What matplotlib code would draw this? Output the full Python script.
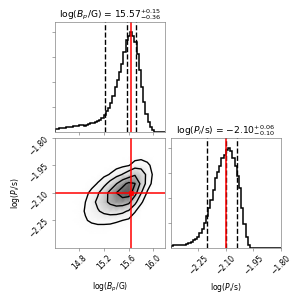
import numpy as np
import matplotlib.pyplot as plt
from matplotlib.ticker import MaxNLocator
from matplotlib.colors import PowerNorm

# Ranges of the two parameters
b_range = (14.41, 16.19)
p_range = (-2.40, -1.80)

# Normalised 1D histograms (50 bins each)
b_hist = [0.03, 0.035, 0.04, 0.04, 0.045, 0.05, 0.05, 0.055, 0.06, 0.06,
          0.065, 0.07, 0.07, 0.065, 0.075, 0.08, 0.09, 0.095, 0.10, 0.11,
          0.12, 0.14, 0.17, 0.21, 0.24, 0.29, 0.36, 0.45, 0.52, 0.60,
          0.68, 0.80, 0.92, 0.96, 1.00, 0.96, 0.90, 0.78, 0.62, 0.45,
          0.30, 0.18, 0.10, 0.05, 0.02, 0.005, 0.0, 0.0, 0.0, 0.0]
p_hist = [0.02, 0.025, 0.025, 0.025, 0.03, 0.03, 0.03, 0.035, 0.045, 0.055,
          0.08, 0.09, 0.11, 0.15, 0.19, 0.25, 0.32, 0.40, 0.48, 0.58,
          0.70, 0.76, 0.82, 0.90, 0.93, 0.98, 1.00, 0.97, 0.90, 0.82,
          0.72, 0.60, 0.40, 0.24, 0.11, 0.03, 0.0, 0.0, 0.0, 0.0,
          0.0, 0.0, 0.0, 0.0, 0.0, 0.0, 0.0, 0.0, 0.0, 0.0]

# 16/50/84 quantiles and true values
b_quant = [15.21, 15.57, 15.72]
p_quant = [-2.20, -2.10, -2.04]
truths = [15.635, -2.10]

# 2D density
grid_b = [14.7, 14.8, 14.9, 15.0, 15.1, 15.2, 15.3, 15.4, 15.5, 15.6,
          15.7, 15.8, 15.9, 16.0, 16.1]
grid_p = [-2.35, -2.30, -2.25, -2.20, -2.15, -2.10, -2.05, -2.00, -1.95,
          -1.90, -1.85]
dens = [
    [0.00, 0.00, 0.01, 0.01, 0.01, 0.01, 0.01, 0.01, 0.00, 0.00, 0.00, 0.00, 0.00, 0.00, 0.00],
    [0.01, 0.02, 0.03, 0.04, 0.04, 0.04, 0.03, 0.02, 0.01, 0.01, 0.00, 0.00, 0.00, 0.00, 0.00],
    [0.02, 0.05, 0.08, 0.11, 0.13, 0.13, 0.13, 0.11, 0.09, 0.06, 0.02, 0.00, 0.00, 0.00, 0.00],
    [0.02, 0.05, 0.10, 0.17, 0.25, 0.32, 0.36, 0.36, 0.32, 0.24, 0.10, 0.02, 0.00, 0.00, 0.00],
    [0.02, 0.04, 0.09, 0.19, 0.32, 0.47, 0.61, 0.70, 0.70, 0.62, 0.33, 0.11, 0.02, 0.00, 0.00],
    [0.01, 0.02, 0.05, 0.13, 0.24, 0.42, 0.63, 0.82, 0.95, 0.96, 0.66, 0.28, 0.07, 0.01, 0.00],
    [0.00, 0.01, 0.02, 0.04, 0.10, 0.20, 0.35, 0.54, 0.74, 0.88, 0.83, 0.48, 0.17, 0.04, 0.01],
    [0.00, 0.00, 0.00, 0.01, 0.02, 0.05, 0.10, 0.18, 0.28, 0.39, 0.52, 0.42, 0.21, 0.06, 0.01],
    [0.00, 0.00, 0.00, 0.00, 0.00, 0.01, 0.01, 0.03, 0.05, 0.08, 0.16, 0.17, 0.12, 0.05, 0.01],
    [0.00, 0.00, 0.00, 0.00, 0.00, 0.00, 0.00, 0.00, 0.00, 0.01, 0.02, 0.04, 0.03, 0.02, 0.01],
    [0.00, 0.00, 0.00, 0.00, 0.00, 0.00, 0.00, 0.00, 0.00, 0.00, 0.00, 0.00, 0.00, 0.00, 0.00],
]
levels = [0.09, 0.27, 0.55, 0.82]

labels = [r"log($B_p$/G)", r"log($P_i$/s)"]
titles = [r"log($B_p$/G) = $15.57_{-0.36}^{+0.15}$",
          r"log($P_i$/s) = $-2.10_{-0.10}^{+0.06}$"]

spine_col = "0.45"

fig, axes = plt.subplots(2, 2, figsize=(5.5, 5.5))
fig.subplots_adjust(left=0.1818, bottom=0.1818, right=0.927, top=0.927,
                    wspace=0.05, hspace=0.05)

# Diagonal histograms
for k, (hist, rng, quant) in enumerate([(b_hist, b_range, b_quant),
                                        (p_hist, p_range, p_quant)]):
    ax = axes[k, k]
    edges = np.linspace(rng[0], rng[1], len(hist) + 1)
    ax.hist(edges[:-1], bins=edges, weights=hist, histtype="step", color="k", lw=2)
    for q in quant:
        ax.axvline(q, ls="dashed", color="k", lw=1.8)
    ax.axvline(truths[k], color="red", lw=2)
    ax.set_xlim(rng)
    ax.set_ylim(0, 1.1 * max(hist))
    ax.set_title(titles[k])
    ax.yaxis.set_major_locator(MaxNLocator(5, prune="lower"))
    ax.set_yticklabels([])
    ax.xaxis.set_major_locator(MaxNLocator(5, prune="lower"))

axes[0, 1].set_visible(False)
axes[0, 0].set_xticklabels([])

# 2D panel
ax = axes[1, 0]
X, Y = np.meshgrid(grid_b, grid_p)
Z = np.array(dens)
ax.pcolormesh(X, Y, Z, shading="gouraud", cmap="gray_r",
              norm=PowerNorm(gamma=1.6, vmin=0, vmax=1.25))
ax.contour(X, Y, Z, levels, colors="k", linewidths=1.8)
ax.axvline(truths[0], color="red", lw=2)
ax.axhline(truths[1], color="red", lw=2)
ax.plot(truths[0], truths[1], "s", color="red", ms=6)
ax.set_xlim(b_range)
ax.set_ylim(p_range)
ax.xaxis.set_major_locator(MaxNLocator(5, prune="lower"))
ax.yaxis.set_major_locator(MaxNLocator(5, prune="lower"))
ax.set_xlabel(labels[0])
ax.set_ylabel(labels[1])
ax.xaxis.set_label_coords(0.5, -0.3)
ax.yaxis.set_label_coords(-0.3, 0.5)

axes[1, 1].set_xlabel(labels[1])
axes[1, 1].xaxis.set_label_coords(0.5, -0.3)

for a in [axes[0, 0], axes[1, 0], axes[1, 1]]:
    for s in a.spines.values():
        s.set_color(spine_col)
    a.tick_params(color=spine_col)

for a in [axes[1, 0], axes[1, 1]]:
    for t in a.get_xticklabels():
        t.set_rotation(45)
for t in axes[1, 0].get_yticklabels():
    t.set_rotation(45)

fig.savefig("out.png", dpi=303 / 5.5)
